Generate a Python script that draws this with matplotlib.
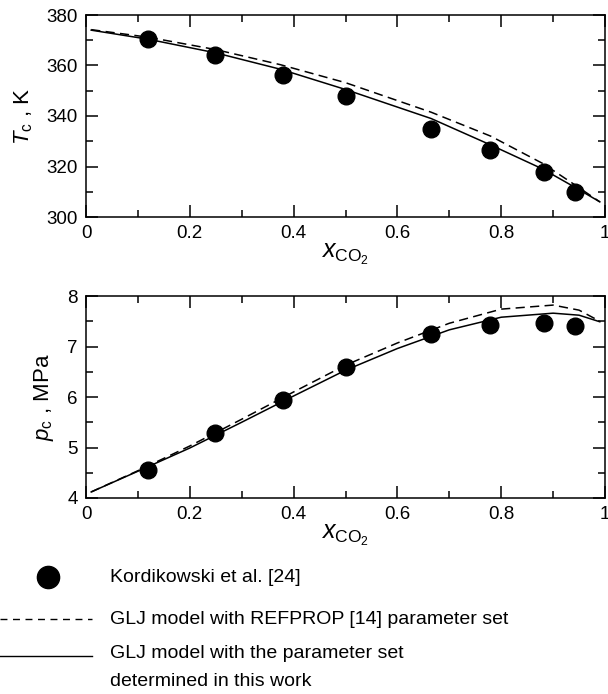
import numpy as np
import matplotlib
matplotlib.use("Agg")
import matplotlib.pyplot as plt
from matplotlib.ticker import MultipleLocator

plt.rcParams['font.family'] = ['Liberation Sans', 'DejaVu Sans']
plt.rcParams['mathtext.fontset'] = 'custom'
plt.rcParams['mathtext.rm'] = 'Liberation Sans'
plt.rcParams['mathtext.it'] = 'Liberation Sans:italic'

# experimental points (Kordikowski et al.)
x_exp = [0.12, 0.249, 0.379, 0.501, 0.665, 0.778, 0.882, 0.942]
T_exp = [370.4, 364.0, 356.2, 347.9, 334.7, 326.5, 317.9, 310.0]
p_exp = [4.55, 5.28, 5.95, 6.59, 7.24, 7.42, 7.47, 7.41]

# critical temperature curves
xT_line = [0.01, 0.12, 0.25, 0.375, 0.5, 0.665, 0.78, 0.88, 0.94, 0.99]
T_refprop = [374.2, 371.2, 366.3, 360.3, 353.2, 341.5, 332.0, 321.2, 313.0, 306.0]
T_fit = [374.0, 370.4, 365.0, 358.5, 350.5, 339.0, 328.5, 319.0, 312.0, 306.0]

# critical pressure curves
xp_line = [0.01, 0.1, 0.2, 0.3, 0.4, 0.5, 0.6, 0.7, 0.8, 0.9, 0.95, 0.99]
p_refprop = [4.12, 4.54, 5.03, 5.56, 6.10, 6.63, 7.07, 7.46, 7.74, 7.82, 7.72, 7.50]
p_fit = [4.12, 4.53, 4.99, 5.50, 6.02, 6.53, 6.96, 7.33, 7.58, 7.66, 7.62, 7.49]

legend_labels = ["Kordikowski et al. [24]",
                 "GLJ model with REFPROP [14] parameter set",
                 "GLJ model with the parameter set",
                 "determined in this work"]

W, H = 608, 694
fig = plt.figure(figsize=(W / 100, H / 100), dpi=100)

def style_axes(ax, ymaj, ymin):
    ax.set_xlim(0, 1)
    ax.xaxis.set_major_locator(MultipleLocator(0.2))
    ax.xaxis.set_minor_locator(MultipleLocator(0.1))
    ax.yaxis.set_major_locator(MultipleLocator(ymaj))
    ax.yaxis.set_minor_locator(MultipleLocator(ymin))
    ax.tick_params(which='both', direction='in', top=True, right=True,
                   width=1.1, labelsize=13.5, pad=6)
    ax.tick_params(which='major', length=8.5)
    ax.tick_params(which='minor', length=5)
    for s in ax.spines.values():
        s.set_linewidth(1.1)
    ax.xaxis.set_major_formatter(plt.FuncFormatter(lambda v, p: "%g" % v))
    ax.set_xlabel(r"$x_{\mathrm{CO_2}}$", fontsize=18, labelpad=0)

# top panel
ax1 = fig.add_axes([86 / W, 1 - 217 / H, 519 / W, 202 / H])
ax1.plot(xT_line, T_refprop, color='black', lw=1.1, dashes=(6, 3.5))
ax1.plot(xT_line, T_fit, color='black', lw=1.1)
ax1.plot(x_exp, T_exp, 'o', color='black', markersize=12, ls='none')
ax1.set_ylim(300, 380)
style_axes(ax1, 20, 10)
ax1.set_ylabel(r"$T_\mathrm{c}$ , K", fontsize=16, labelpad=8)

# bottom panel
ax2 = fig.add_axes([86 / W, 1 - 498 / H, 519 / W, 202 / H])
ax2.plot(xp_line, p_refprop, color='black', lw=1.1, dashes=(6, 3.5))
ax2.plot(xp_line, p_fit, color='black', lw=1.1)
ax2.plot(x_exp, p_exp, 'o', color='black', markersize=12, ls='none')
ax2.set_ylim(4, 8)
style_axes(ax2, 1, 0.5)
ax2.set_ylabel(r"$p_\mathrm{c}$ , MPa", fontsize=16, labelpad=8)

# legend drawn in pixel-like coordinates
lg = fig.add_axes([0, 0, 1, 1])
lg.set_xlim(0, W)
lg.set_ylim(H, 0)
lg.axis('off')
lg.plot([48], [577], 'o', color='black', markersize=16)
lg.plot([0, 92], [619, 619], color='black', lw=1.0, dashes=(5, 4))
lg.plot([0, 92], [656, 656], color='black', lw=1.0)
lg.text(110, 577, legend_labels[0], fontsize=14, va='center')
lg.text(110, 619, legend_labels[1], fontsize=14, va='center')
lg.text(110, 654, legend_labels[2], fontsize=14, va='center')
lg.text(110, 682, legend_labels[3], fontsize=14, va='center')

fig.savefig("out.png", dpi=100)
